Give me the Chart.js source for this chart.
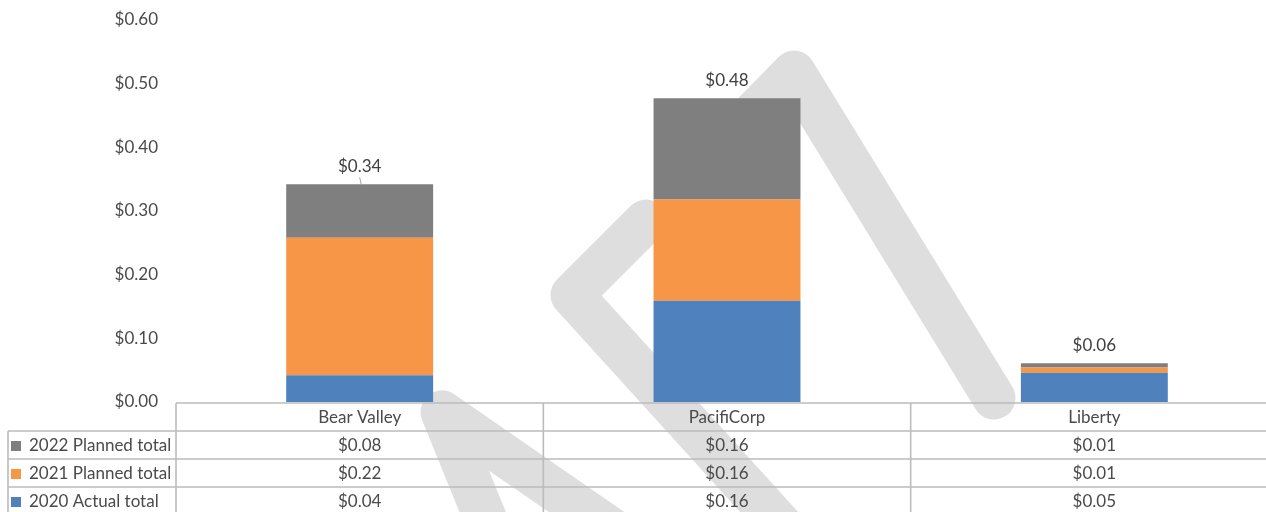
<!DOCTYPE html>
<html><head><meta charset="utf-8">
<script src="https://cdn.jsdelivr.net/npm/chart.js@4.4.1/dist/chart.umd.min.js"></script>
<style>
html,body{margin:0;padding:0;background:#fff;overflow:hidden;width:1266px;height:512px;}
#wrap{position:relative;width:1290px;height:512px;}
canvas{display:block;}
</style></head><body>
<div id="wrap"><canvas id="c" width="1290" height="512"></canvas></div>
<script>
// ---- data ----
const categories = ['Bear Valley', 'PacifiCorp', 'Liberty'];
const seriesNames = ['2020 Actual total', '2021 Planned total', '2022 Planned total'];
const actual2020 = [0.042, 0.159, 0.046];
const planned2021 = [0.216, 0.159, 0.008];
const planned2022 = [0.084, 0.159, 0.007];
const seriesColors = ['#4F81BD', '#F79646', '#7F7F7F'];
const yTickStep = 0.1;

const FONT = 'Lato, "Open Sans", sans-serif';
const FS = 17;
const fmt = v => '$' + v.toFixed(2);

const watermarkPlugin = {
  id: 'watermark',
  beforeDraw(chart) {
    const ctx = chart.ctx;
    ctx.save();
    ctx.fillStyle = '#ffffff';
    ctx.fillRect(0, 0, chart.width, chart.height);
    ctx.strokeStyle = '#dedede';
    ctx.lineWidth = 43;
    ctx.lineJoin = 'round';
    ctx.lineCap = 'round';
    const paths = [
      [[800, 546], [572, 295], [646, 221]],
      [[740, 127], [794, 72], [994, 398]],
      [[490, 530], [442, 412], [640, 549]]
    ];
    paths.forEach(p => {
      ctx.beginPath();
      ctx.moveTo(p[0][0], p[0][1]);
      for (let i = 1; i < p.length; i++) ctx.lineTo(p[i][0], p[i][1]);
      ctx.stroke();
    });
    ctx.restore();
  }
};

const tablePlugin = {
  id: 'dataTable',
  afterDraw(chart) {
    const ctx = chart.ctx;
    const xs = chart.scales.x, ys = chart.scales.y;
    const area = chart.chartArea;
    const n = categories.length;
    const colW = (area.right - area.left) / n;
    const top = area.bottom + 1;
    const rowH = 28;
    const legendLeft = 8;
    ctx.save();
    // totals above stacks
    ctx.font = FS + 'px ' + FONT;
    ctx.fillStyle = '#404040';
    ctx.textAlign = 'center';
    ctx.textBaseline = 'middle';
    categories.forEach((c, i) => {
      const total = actual2020[i] + planned2021[i] + planned2022[i];
      const yTop = ys.getPixelForValue(total);
      ctx.fillText(fmt(total), xs.getPixelForValue(i), yTop - 18);
    });
    // leader line for first total
    {
      const total = actual2020[0] + planned2021[0] + planned2022[0];
      const yTop = ys.getPixelForValue(total);
      const cx = xs.getPixelForValue(0);
      ctx.strokeStyle = '#a6a6a6'; ctx.lineWidth = 1;
      ctx.beginPath(); ctx.moveTo(cx, yTop - 7); ctx.lineTo(cx + 1.5, yTop); ctx.stroke();
    }
    // table grid
    ctx.strokeStyle = '#bcbcbc';
    ctx.lineWidth = 1.6;
    ctx.beginPath();
    ctx.moveTo(area.left, top); ctx.lineTo(chart.width, top);
    for (let r = 1; r <= 3; r++) {
      const y = top + r * rowH;
      ctx.moveTo(legendLeft, y); ctx.lineTo(chart.width, y);
    }
    ctx.moveTo(legendLeft, top + rowH); ctx.lineTo(legendLeft, chart.height);
    for (let k = 0; k < n; k++) {
      const x = area.left + k * colW;
      ctx.moveTo(x, top); ctx.lineTo(x, chart.height);
    }
    ctx.stroke();
    // header
    ctx.fillStyle = '#4a4a4a';
    ctx.textAlign = 'center';
    categories.forEach((c, i) => ctx.fillText(c, xs.getPixelForValue(i), top + rowH / 2 + 1));
    // rows: top row = last series
    const rows = [
      [seriesNames[2], planned2022, seriesColors[2]],
      [seriesNames[1], planned2021, seriesColors[1]],
      [seriesNames[0], actual2020, seriesColors[0]]
    ];
    rows.forEach((row, r) => {
      const yc = top + rowH * (r + 1) + rowH / 2 + 1;
      ctx.fillStyle = row[2];
      ctx.fillRect(11, yc - 5, 10, 10);
      ctx.fillStyle = '#4a4a4a';
      ctx.textAlign = 'left';
      ctx.fillText(row[0], 29, yc);
      ctx.textAlign = 'center';
      row[1].forEach((v, i) => ctx.fillText(fmt(v), xs.getPixelForValue(i), yc));
    });
    ctx.restore();
  }
};

new Chart(document.getElementById('c'), {
  type: 'bar',
  data: {
    labels: categories,
    datasets: [
      { label: seriesNames[0], data: actual2020, backgroundColor: seriesColors[0] },
      { label: seriesNames[1], data: planned2021, backgroundColor: seriesColors[1] },
      { label: seriesNames[2], data: planned2022, backgroundColor: seriesColors[2] }
    ]
  },
  options: {
    responsive: false,
    animation: false,
    devicePixelRatio: 1,
    layout: { autoPadding: false, padding: { top: 20, bottom: 110, left: 0, right: 12 } },
    datasets: { bar: { categoryPercentage: 1, barPercentage: 0.4, borderWidth: 0 } },
    plugins: { legend: { display: false }, tooltip: { enabled: false } },
    scales: {
      x: { stacked: true, display: false },
      y: {
        stacked: true, min: 0, max: 0.6,
        ticks: { stepSize: yTickStep, padding: 18, color: '#4a4a4a', font: { family: FONT, size: FS }, callback: v => fmt(v) },
        grid: { display: false, drawTicks: false },
        border: { display: false },
        afterFit(s) { s.width = 176; s.paddingTop = 10; s.paddingBottom = 10; }
      }
    }
  },
  plugins: [watermarkPlugin, tablePlugin]
});
</script>
</body></html>
